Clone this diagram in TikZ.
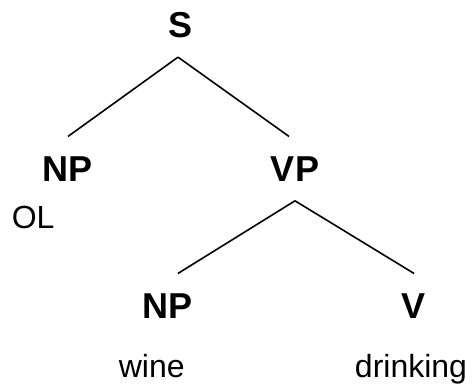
\documentclass[tikz,border=0pt]{standalone}
\usepackage{fontspec}
\setmainfont{Liberation Sans}
\usetikzlibrary{calc}

\tikzset{
  cat/.style={font=\fontsize{36}{43}\selectfont\bfseries, anchor=base,
    inner xsep=0pt, inner ysep=19pt},
  leaf/.style={font=\fontsize{32}{38}\selectfont, inner sep=0pt},
}

\begin{document}
\begin{tikzpicture}[x=1pt, y=-1pt, line width=1.6pt]
  \useasboundingbox (0,0) rectangle (474,389);
  % categories, placed by their baselines
  \node[cat] (s) at (181,37) {S};
  \node[cat] (np) at (68,181) {NP};
  \node[cat] (vp) at (295,181) {VP};
  \node[cat] (np2) at (168,318) {NP};
  \node[cat] (v) at (414,318) {V};
  % words
  \node[leaf, anchor=base west] (ol) at (11,228) {OL};
  \node[leaf, anchor=base west] (wine) at (118,377) {wine};
  \node[leaf, anchor=base] (drinking) at (411,377) {drinking};
  % branches
  \draw ([xshift=-3pt]s.south) -- (np.north);
  \draw ([xshift=-3pt]s.south) -- ([xshift=-6pt]vp.north);
  \draw (vp.south) -- ([xshift=10pt]np2.north);
  \draw (vp.south) -- (v.north);
\end{tikzpicture}
\end{document}
